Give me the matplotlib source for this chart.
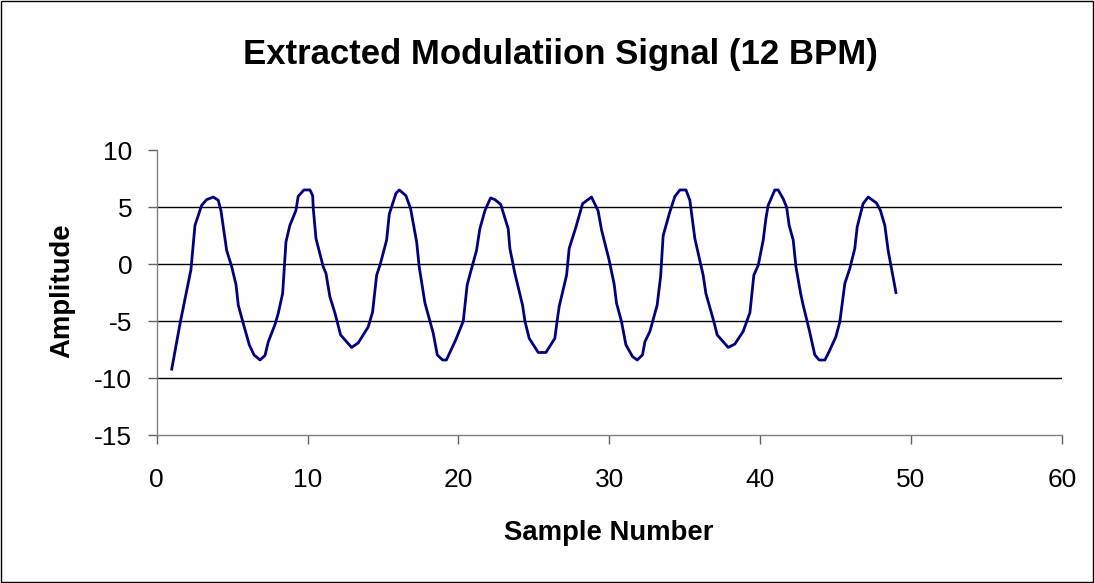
import matplotlib
matplotlib.use("Agg")
import matplotlib.pyplot as plt
from matplotlib.patches import Rectangle

plt.rcParams['font.family'] = ['Liberation Sans', 'DejaVu Sans']

title = "Extracted Modulatiion Signal (12 BPM)"
x_label = "Sample Number"
y_label = "Amplitude"
x_ticks = [0, 10, 20, 30, 40, 50, 60]
y_ticks = [-15, -10, -5, 0, 5, 10]

sample = [1.0, 1.55, 2.27, 2.54, 2.98, 3.31, 3.75, 4.08, 4.26, 4.64, 4.97, 5.26, 5.41, 5.74,
          6.14, 6.45, 6.85, 7.18, 7.4, 7.84, 8.06, 8.35, 8.57, 8.83, 9.23, 9.38, 9.76, 10.16,
          10.34, 10.38, 10.56, 11.04, 11.22, 11.48, 11.82, 12.19, 12.92, 13.36, 14.02, 14.31,
          14.58, 14.8, 15.24, 15.42, 15.86, 16.08, 16.52, 16.83, 17.23, 17.4, 17.78, 18.33,
          18.6, 18.95, 19.2, 19.8, 20.32, 20.58, 20.81, 21.2, 21.42, 21.76, 22.13, 22.42,
          22.8, 23.3, 23.41, 23.74, 24.25, 24.41, 24.69, 25.29, 25.8, 26.39, 26.55, 26.68,
          27.17, 27.34, 27.79, 28.23, 28.82, 29.26, 29.49, 29.99, 30.32, 30.48, 30.81, 31.1,
          31.54, 31.85, 32.2, 32.36, 32.69, 33.17, 33.4, 33.57, 34.01, 34.35, 34.68, 35.08,
          35.34, 35.67, 36.22, 36.4, 36.93, 37.15, 37.88, 38.32, 38.87, 39.32, 39.58, 39.87,
          40.2, 40.38, 40.53, 40.97, 41.19, 41.52, 41.75, 41.92, 42.19, 42.37, 42.68, 42.85,
          43.25, 43.62, 43.91, 44.29, 44.57, 45.02, 45.28, 45.61, 45.94, 46.27, 46.43, 46.82,
          47.16, 47.71, 47.97, 48.26, 48.48, 49.0]
amplitude = [-9.2, -5.2, -0.5, 3.4, 5.15, 5.65, 5.88, 5.6, 4.7, 1.2, -0.2, -1.8, -3.6, -5.2,
             -7.07, -7.95, -8.4, -8.0, -6.8, -5.3, -4.3, -2.56, 1.95, 3.4, 4.7, 5.94, 6.5, 6.5,
             6.0, 4.86, 2.24, -0.23, -0.8, -2.85, -4.3, -6.2, -7.3, -6.9, -5.5, -4.2,
             -0.96, -0.1, 2.1, 4.4, 6.2, 6.5, 6.0, 4.86, 1.95, -0.23, -3.4, -6.05,
             -7.95, -8.4, -8.4, -6.7, -5.0, -1.83, -0.67, 1.2, 3.1, 4.7, 5.8, 5.65,
             5.24, 3.1, 1.37, -0.8, -3.6, -5.0, -6.5, -7.74, -7.74, -6.5, -4.9, -3.7,
             -0.96, 1.37, 3.26, 5.3, 5.88, 4.66, 2.97, 0.35, -1.75, -3.43, -5.04, -7.07,
             -8.1, -8.4, -7.95, -6.8, -5.9, -3.6, -1.1, 2.5, 4.57, 5.94, 6.5, 6.5,
             5.6, 2.24, -0.96, -2.56, -5.04, -6.2, -7.3, -7.0, -5.9, -4.25, -0.96, -0.1,
             2.1, 4.0, 5.15, 6.5, 6.5, 5.74, 5.0, 3.4, 2.1, -0.23, -2.56, -3.6,
             -5.76, -7.95, -8.4, -8.4, -7.66, -6.35, -5.04, -1.7, -0.38, 1.37, 3.26, 5.3,
             5.88, 5.35, 4.7, 3.4, 1.2, -2.5]

fig = plt.figure(figsize=(10.94, 5.83), dpi=100)
fig.patch.set_facecolor('white')
fig.patches.append(Rectangle((0.0005, 0.0009), 0.9985, 0.998, transform=fig.transFigure,
                             fill=False, edgecolor='black', linewidth=1.0))

ax = fig.add_axes([0.1432, 0.2533, 0.8275, 0.4894])
ax.plot(sample, amplitude, color='#000080', linewidth=2.0, zorder=3)

ax.set_xlim(0, 60)
ax.set_ylim(-15, 10)
ax.set_xticks(x_ticks)
ax.set_yticks(y_ticks)
ax.set_xticklabels([str(v) for v in x_ticks])
ax.set_yticklabels([str(v) for v in y_ticks])

for yv in [-10, -5, 0, 5]:
    ax.axhline(yv, color='black', linewidth=1.0, zorder=1)

for s in ['top', 'right']:
    ax.spines[s].set_visible(False)
for s in ['left', 'bottom']:
    ax.spines[s].set_color('#808080')
    ax.spines[s].set_linewidth(1.0)

ax.tick_params(axis='both', direction='out', length=6.5, width=1.0, color='#606060',
               labelsize=19)
ax.tick_params(axis='x', pad=17)
ax.tick_params(axis='y', pad=11)

fig.text(0.512, 0.9057, title, ha='center', va='center', fontsize=25, fontweight='bold')
fig.text(0.556, 0.0858, x_label, ha='center', va='center', fontsize=19.8, fontweight='bold')
fig.text(0.0567, 0.502, y_label, ha='center', va='center', fontsize=19.8, fontweight='bold',
         rotation=90)

fig.savefig('out.png', dpi=100)
